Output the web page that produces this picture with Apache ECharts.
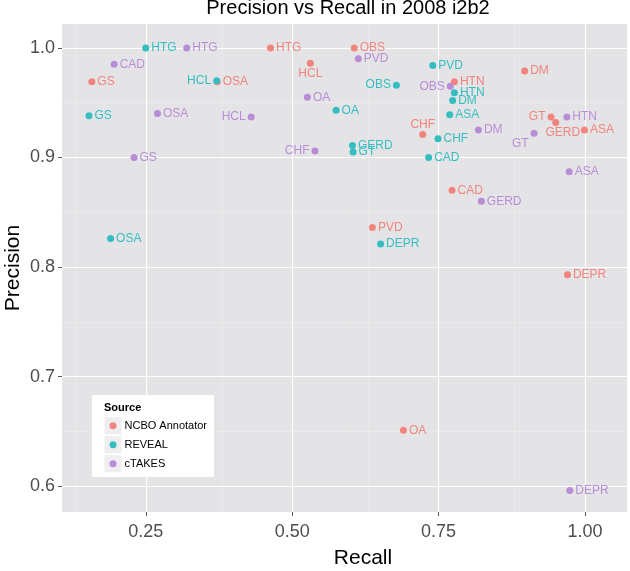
<!DOCTYPE html>
<html>
<head>
<meta charset="utf-8">
<script src="https://cdn.jsdelivr.net/npm/echarts@6/dist/echarts.min.js"></script>
<style>html,body{margin:0;padding:0;background:#fff}#c{width:630px;height:571px}</style>
</head>
<body>
<div id="c"></div>
<script>
// ---- data ----
const seriesNames = ['NCBO Annotator', 'REVEAL', 'cTAKES'];

const ncboLabels    = ['HTG','OBS','HCL','GS','OSA','DM','HTN','GT','GERD','ASA','CHF','CAD','PVD','DEPR','OA'];
const ncboRecall    = [0.463,0.606,0.531,0.158,0.372,0.897,0.777,0.942,0.950,0.999,0.723,0.773,0.637,0.970,0.690];
const ncboPrecision = [1.000,1.000,0.986,0.969,0.969,0.979,0.969,0.937,0.932,0.925,0.921,0.870,0.836,0.793,0.651];

const revealLabels    = ['HTG','HCL','GS','OSA','OA','PVD','OBS','HTN','DM','ASA','CHF','GERD','GT','CAD','DEPR'];
const revealRecall    = [0.250,0.371,0.153,0.190,0.575,0.740,0.678,0.777,0.774,0.769,0.749,0.603,0.604,0.733,0.651];
const revealPrecision = [1.000,0.970,0.938,0.826,0.943,0.984,0.966,0.959,0.952,0.939,0.917,0.911,0.905,0.900,0.821];

const ctakesLabels    = ['HTG','CAD','OSA','GS','HCL','OA','CHF','PVD','OBS','DM','GT','HTN','ASA','GERD','DEPR'];
const ctakesRecall    = [0.320,0.196,0.270,0.230,0.430,0.526,0.539,0.613,0.770,0.818,0.913,0.969,0.973,0.823,0.974];
const ctakesPrecision = [1.000,0.985,0.940,0.900,0.937,0.955,0.906,0.990,0.965,0.925,0.922,0.937,0.887,0.860,0.596];

const xTicks = [0.25, 0.50, 0.75, 1.00];
const yTicks = [0.6, 0.7, 0.8, 0.9, 1.0];
const xMinor = [0.125, 0.375, 0.625, 0.875];
const yMinor = [0.65, 0.75, 0.85, 0.95];

// ---- styling ----
const FONT = 'Liberation Sans, Arial, Helvetica, sans-serif';
const colors = ['#F2847D', '#34BEC1', '#B98CD6'];
const labelPlace = {
  'REVEAL|HCL': {position: 'left'},
  'REVEAL|OBS': {position: 'left'},
  'cTAKES|OBS': {position: 'left'},
  'cTAKES|HCL': {position: 'left'},
  'cTAKES|CHF': {position: 'left'},
  'NCBO Annotator|GT': {position: 'left'},
  'cTAKES|GT': {position: 'left', offset: [0, 10]},
  'NCBO Annotator|HCL': {position: 'bottom', distance: 1},
  'NCBO Annotator|CHF': {position: 'top', distance: 0},
  'NCBO Annotator|GERD': {position: 'bottom', distance: 1, offset: [7, 0]}
};

function build(name, labels, rec, prec) {
  return labels.map((lb, i) => {
    const item = {name: lb, value: [rec[i], prec[i]]};
    const p = labelPlace[name + '|' + lb];
    if (p) item.label = p;
    return item;
  });
}

const allData = [
  build(seriesNames[0], ncboLabels, ncboRecall, ncboPrecision),
  build(seriesNames[1], revealLabels, revealRecall, revealPrecision),
  build(seriesNames[2], ctakesLabels, ctakesRecall, ctakesPrecision)
];

const pointSeries = seriesNames.map((n, k) => ({
  name: n,
  type: 'scatter',
  z: 5 + k,
  symbol: 'circle',
  symbolSize: 7,
  itemStyle: {color: colors[k], opacity: 1},
  label: {
    show: true, formatter: '{b}', position: 'right', distance: 2,
    color: colors[k], fontSize: 12, fontFamily: FONT
  },
  emphasis: {disabled: true},
  data: allData[k]
}));

const gridSeries = [
  {
    type: 'scatter', data: [], silent: true, z: 1,
    markLine: {
      silent: true, symbol: 'none', animation: false, label: {show: false},
      lineStyle: {color: '#EEEEF0', width: 0.6, type: 'solid'},
      emphasis: {disabled: true},
      data: xMinor.map(v => ({xAxis: v})).concat(yMinor.map(v => ({yAxis: v})))
    }
  },
  {
    type: 'scatter', data: [], silent: true, z: 2,
    markLine: {
      silent: true, symbol: 'none', animation: false, label: {show: false},
      lineStyle: {color: '#FFFFFF', width: 1.2, type: 'solid'},
      emphasis: {disabled: true},
      data: xTicks.map(v => ({xAxis: v})).concat(yTicks.map(v => ({yAxis: v})))
    }
  }
];

const chart = echarts.init(document.getElementById('c'), null, {renderer: 'canvas'});
chart.setOption({
  animation: false,
  backgroundColor: '#FFFFFF',
  textStyle: {fontFamily: FONT},
  title: {
    text: 'Precision vs Recall in 2008 i2b2',
    left: 348, top: -2, textAlign: 'center', padding: 0,
    textStyle: {fontSize: 20, fontWeight: 'normal', color: '#000', fontFamily: FONT}
  },
  grid: {
    left: 62, right: 3, top: 24, bottom: 59,
    outerBoundsMode: 'none', containLabel: false,
    show: true, backgroundColor: '#E4E4E7', borderWidth: 0
  },
  xAxis: {
    type: 'value', min: 0.107, max: 1.0717,
    name: 'Recall', nameLocation: 'middle', nameGap: 36, nameMoveOverlap: false,
    nameTextStyle: {fontSize: 21, color: '#000', fontFamily: FONT, padding: [0, 0, 0, 37]},
    axisLine: {show: false},
    axisTick: {show: true, customValues: xTicks, length: 4, lineStyle: {color: '#555', width: 1}},
    axisLabel: {customValues: xTicks, formatter: v => v.toFixed(2), fontSize: 18, color: '#4D4D4D', margin: 11, fontFamily: FONT},
    splitLine: {show: false}
  },
  yAxis: {
    type: 'value', min: 0.5764, max: 1.0218,
    name: 'Precision', nameLocation: 'middle', nameGap: 38, nameRotate: 90, nameMoveOverlap: false,
    nameTextStyle: {fontSize: 21, color: '#000', fontFamily: FONT},
    axisLine: {show: false},
    axisTick: {show: true, customValues: yTicks, length: 4, lineStyle: {color: '#555', width: 1}},
    axisLabel: {customValues: yTicks, formatter: v => v.toFixed(1), fontSize: 18, color: '#4D4D4D', margin: 7, fontFamily: FONT},
    splitLine: {show: false}
  },
  legend: {
    data: seriesNames,
    orient: 'vertical',
    left: 109.5, top: 417.2,
    padding: 0,
    itemGap: 2,
    itemWidth: 7, itemHeight: 7,
    icon: 'circle',
    z: 300,
    selectedMode: false,
    textStyle: {fontSize: 11, color: '#000', fontFamily: FONT, lineHeight: 17, height: 17, padding: [0, 0, 0, 3]}
  },
  graphic: [
    {type: 'rect', z: 200, silent: true, shape: {x: 92, y: 395, width: 122, height: 82}, style: {fill: '#FFFFFF'}},
    {type: 'rect', z: 201, silent: true, shape: {x: 104.5, y: 417.2, width: 17, height: 17}, style: {fill: '#EEEEF0'}},
    {type: 'rect', z: 201, silent: true, shape: {x: 104.5, y: 436.2, width: 17, height: 17}, style: {fill: '#EEEEF0'}},
    {type: 'rect', z: 201, silent: true, shape: {x: 104.5, y: 455.2, width: 17, height: 17}, style: {fill: '#EEEEF0'}},
    {type: 'text', z: 202, silent: true, x: 104, y: 408, style: {text: 'Source', fontSize: 11, fontWeight: 'bold', fill: '#000', fontFamily: FONT, textVerticalAlign: 'middle'}}
  ],
  series: gridSeries.concat(pointSeries)
});
</script>
</body>
</html>
